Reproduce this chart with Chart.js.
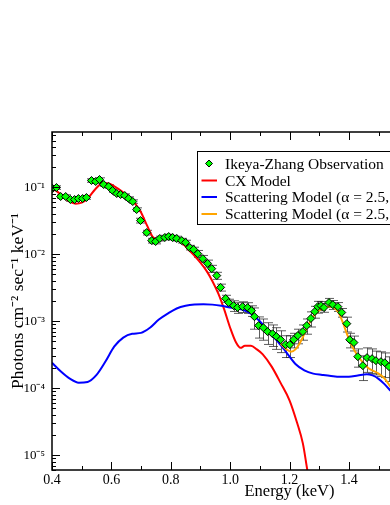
<!DOCTYPE html>
<html>
<head>
<meta charset="utf-8">
<script src="https://cdn.jsdelivr.net/npm/chart.js@4.4.0/dist/chart.umd.min.js"></script>
<style>
  html, body { margin: 0; padding: 0; background: #fff; overflow: hidden; }
  #wrap { width: 560px; height: 505px; }
</style>
</head>
<body>
<div id="wrap"><canvas id="spectrum"></canvas></div>
<script>
// Ikeya-Zhang observation (keV, photons cm^-2 s^-1 keV^-1)
const obsEnergy = [0.402, 0.415, 0.429, 0.446, 0.462, 0.476, 0.489, 0.503, 0.516, 0.533,
    0.547, 0.560, 0.574, 0.591, 0.604, 0.618, 0.631, 0.645, 0.658, 0.672,
    0.685, 0.698, 0.719, 0.736, 0.749, 0.763, 0.780, 0.793, 0.806, 0.820,
    0.837, 0.850, 0.864, 0.877, 0.891, 0.908, 0.924, 0.938, 0.955, 0.968,
    0.985, 0.995, 1.012, 1.025, 1.042, 1.059, 1.072, 1.082, 1.096, 1.112,
    1.126, 1.143, 1.156, 1.170, 1.187, 1.201, 1.214, 1.228, 1.245, 1.258,
    1.272, 1.285, 1.295, 1.306, 1.316, 1.333, 1.346, 1.363, 1.376, 1.393,
    1.403, 1.417, 1.430, 1.447, 1.461, 1.478, 1.491, 1.508, 1.521, 1.535];
const obsFlux = [0.0959, 0.0993, 0.0729, 0.0729, 0.0657, 0.0657, 0.0680, 0.0680, 0.0704, 0.1264,
    0.1221, 0.1308, 0.1101, 0.1028, 0.0896, 0.0808, 0.0781, 0.0754, 0.0680, 0.0613,
    0.0466, 0.0319, 0.0211, 0.0160, 0.0155, 0.0172, 0.0178, 0.0184, 0.0178, 0.0172,
    0.0160, 0.0150, 0.0126, 0.0118, 0.0102, 0.0086, 0.0073, 0.0061, 0.0048, 0.0032,
    0.00218, 0.0019, 0.00171, 0.0016, 0.00165, 0.0016, 0.00144, 0.00117, 0.00086, 0.0008,
    0.0007, 0.00065, 0.00059, 0.00053, 0.000447, 0.000447, 0.00053, 0.00061, 0.0007, 0.00086,
    0.0011, 0.00139, 0.00165, 0.00171, 0.0016, 0.0019, 0.00177, 0.00165, 0.00135, 0.00092,
    0.00053, 0.00048, 0.000296, 0.000217, 0.000286, 0.000276, 0.000258, 0.000249, 0.00024, 0.00021];
const obsErr = [0.0058, 0.006, 0.0044, 0.0044, 0.0039, 0.0039, 0.0041, 0.0041, 0.0042, 0.0076,
    0.0073, 0.0078, 0.0066, 0.0062, 0.0054, 0.0048, 0.0047, 0.0045, 0.0041, 0.0037,
    0.0028, 0.0026, 0.0017, 0.0013, 0.0012, 0.0014, 0.0014, 0.0015, 0.0014, 0.0014,
    0.0013, 0.0012, 0.0010, 0.00094, 0.0012, 0.0010, 0.00088, 0.00073, 0.00058, 0.00038,
    0.00026, 0.00023, 0.00031, 0.00029, 0.0003, 0.00029, 0.00026, 0.00041, 0.0003, 0.00028,
    0.00025, 0.00023, 0.00021, 0.00019, 0.00016, 0.00016, 0.00013, 0.00015, 0.00018, 0.00022,
    0.00028, 0.00028, 0.00033, 0.00026, 0.00024, 0.00029, 0.00027, 0.00025, 0.0002, 0.00023,
    0.00013, 0.00012, 0.00009, 0.000087, 0.000114, 0.00011, 0.0001, 0.0001, 0.000096, 0.000084];

// CX model
const cxEnergy = [0.40, 0.43, 0.46, 0.48, 0.50, 0.52, 0.545, 0.57, 0.59, 0.61,
    0.635, 0.66, 0.68, 0.70, 0.72, 0.74, 0.76, 0.78, 0.80, 0.82,
    0.84, 0.86, 0.88, 0.90, 0.92, 0.94, 0.96, 0.98, 1.00, 1.02,
    1.035, 1.05, 1.07, 1.09, 1.11, 1.14, 1.17, 1.20, 1.225, 1.245,
    1.26, 1.275];
const cxFlux = [0.099, 0.078, 0.061, 0.057, 0.059, 0.068, 0.093, 0.114, 0.114, 0.103,
    0.087, 0.070, 0.057, 0.042, 0.027, 0.018, 0.0166, 0.0172, 0.0178, 0.0166,
    0.0145, 0.0117, 0.0095, 0.0075, 0.0057, 0.0040, 0.0026, 0.0015, 0.00080, 0.00048,
    0.00040, 0.00043, 0.00043, 0.00038, 0.00032, 0.00021, 0.00012, 0.000066, 0.000031, 0.000015,
    0.000006, 0.0000025];

// Scattering model (blue)
const scatEnergy = [0.40, 0.43, 0.46, 0.49, 0.52, 0.55, 0.58, 0.61, 0.64, 0.67,
    0.70, 0.73, 0.76, 0.79, 0.82, 0.85, 0.88, 0.91, 0.94, 0.97,
    1.00, 1.04, 1.07, 1.10, 1.13, 1.16, 1.19, 1.22, 1.25, 1.28,
    1.31, 1.34, 1.37, 1.40, 1.43, 1.46, 1.48, 1.50, 1.52, 1.54,
    1.57, 1.60];
const scatFlux = [0.00024, 0.000177, 0.000139, 0.000121, 0.000124, 0.000158, 0.00025, 0.00042, 0.00057, 0.00065,
    0.00067, 0.0008, 0.00106, 0.0013, 0.00155, 0.0017, 0.00178, 0.0018, 0.00177, 0.0017,
    0.0016, 0.0015, 0.0013, 0.001, 0.0007, 0.0005, 0.00034, 0.00023, 0.000185, 0.000165,
    0.000158, 0.000152, 0.000148, 0.000148, 0.000155, 0.000162, 0.000155, 0.000138, 0.000115, 0.000092,
    0.000065, 0.000045];

// Scattering model (orange)
const scatLineEnergy = [1.17, 1.19, 1.205, 1.22, 1.24, 1.26, 1.28, 1.30, 1.32, 1.335,
    1.35, 1.365, 1.38, 1.395, 1.415, 1.44, 1.465, 1.495, 1.52, 1.54,
    1.57, 1.60];
const scatLineFlux = [0.00046, 0.00038, 0.00035, 0.00038, 0.00052, 0.00082, 0.00117, 0.00145, 0.00162, 0.00166,
    0.0016, 0.00135, 0.00095, 0.00062, 0.00039, 0.000265, 0.0002, 0.00017, 0.00014, 0.000105,
    0.00007, 0.00005];

const xTickValues = [0.4, 0.6, 0.8, 1.0, 1.2, 1.4, 1.6, 1.8, 2.0];
const seriesNames = ["Ikeya-Zhang Observation", "CX Model",
    "Scattering Model (\u03b1 = 2.5, no lines)", "Scattering Model (\u03b1 = 2.5, with lines)"];

const serif = '"Liberation Serif", "Times New Roman", serif';
Chart.defaults.font.family = serif;
Chart.defaults.color = "#000";

const supMap = { "-": "\u207b", "0": "\u2070", "1": "\u00b9", "2": "\u00b2", "3": "\u00b3",
    "4": "\u2074", "5": "\u2075", "6": "\u2076", "7": "\u2077", "8": "\u2078", "9": "\u2079" };
function sup(n) {
    return String(n).split("").map((c) => supMap[c]).join("");
}

function pairs(xs, ys) {
    return xs.map((x, i) => ({ x: x, y: ys[i] }));
}

// error bars under the diamonds
const errorBars = {
    id: "errorBars",
    beforeDatasetsDraw(chart) {
        const { ctx, chartArea, scales } = chart;
        ctx.save();
        ctx.beginPath();
        ctx.rect(chartArea.left, chartArea.top, chartArea.right - chartArea.left, chartArea.bottom - chartArea.top);
        ctx.clip();
        ctx.strokeStyle = "rgba(40,40,40,0.75)";
        ctx.lineWidth = 1;
        obsEnergy.forEach((e, i) => {
            const px = Math.round(scales.x.getPixelForValue(e)) + 0.5;
            const top = scales.y.getPixelForValue(obsFlux[i] + obsErr[i]);
            const bot = scales.y.getPixelForValue(obsFlux[i] - obsErr[i]);
            ctx.beginPath();
            ctx.moveTo(px, top);
            ctx.lineTo(px, bot);
            ctx.moveTo(px - 4.5, top);
            ctx.lineTo(px + 4.5, top);
            ctx.moveTo(px - 4.5, bot);
            ctx.lineTo(px + 4.5, bot);
            ctx.stroke();
        });
        ctx.restore();
    },
};

// frame, inward tick marks and the boxed legend
const frameAndLegend = {
    id: "frameAndLegend",
    afterDraw(chart) {
        const { ctx, chartArea, scales } = chart;
        const { left, right, top, bottom } = chartArea;
        ctx.save();
        ctx.strokeStyle = "#000";
        ctx.lineWidth = 1.5;
        ctx.strokeRect(left, top, right - left, bottom - top);

        ctx.lineWidth = 1;
        // x ticks, bottom and top
        for (let k = 4; k <= 20; k++) {
            const px = Math.round(scales.x.getPixelForValue(k / 10)) + 0.5;
            const len = k % 2 === 0 ? 8 : 4;
            ctx.beginPath();
            ctx.moveTo(px, bottom);
            ctx.lineTo(px, bottom - len);
            ctx.moveTo(px, top);
            ctx.lineTo(px, top + len);
            ctx.stroke();
        }
        // y ticks, log
        for (let ex = -6; ex <= 0; ex++) {
            for (let m = 1; m <= 9; m++) {
                const v = m * Math.pow(10, ex);
                if (v < scales.y.min || v > scales.y.max) continue;
                const py = Math.round(scales.y.getPixelForValue(v)) + 0.5;
                const len = m === 1 ? 8 : 4;
                ctx.beginPath();
                ctx.moveTo(left, py);
                ctx.lineTo(left + len, py);
                ctx.moveTo(right, py);
                ctx.lineTo(right - len, py);
                ctx.stroke();
            }
        }

        // legend
        const bx = 197.5, by = 151.5, bw = 300, bh = 73;
        ctx.fillStyle = "#fff";
        ctx.fillRect(bx, by, bw, bh);
        ctx.strokeRect(bx, by, bw, bh);
        ctx.font = "15.5px " + serif;
        ctx.textBaseline = "middle";
        const rows = [163.5, 180.5, 197, 214];
        chart.data.datasets.forEach((ds, i) => {
            const ry = rows[i];
            if (i === 0) {
                ctx.beginPath();
                ctx.moveTo(209, ry - 3.5);
                ctx.lineTo(212.5, ry);
                ctx.lineTo(209, ry + 3.5);
                ctx.lineTo(205.5, ry);
                ctx.closePath();
                ctx.fillStyle = ds.backgroundColor;
                ctx.fill();
                ctx.strokeStyle = "#000";
                ctx.stroke();
            } else {
                ctx.strokeStyle = ds.borderColor;
                ctx.lineWidth = 2;
                ctx.beginPath();
                ctx.moveTo(201.5, ry);
                ctx.lineTo(217, ry);
                ctx.stroke();
                ctx.lineWidth = 1;
            }
            ctx.fillStyle = "#000";
            ctx.fillText(ds.label, 225, ry + 1);
        });
        ctx.restore();
    },
};

new Chart(document.getElementById("spectrum"), {
    type: "line",
    data: {
        datasets: [
            {
                label: seriesNames[0],
                data: pairs(obsEnergy, obsFlux),
                showLine: false,
                pointStyle: "rectRot",
                pointRadius: 4,
                pointBorderWidth: 1,
                backgroundColor: "#00ff00",
                borderColor: "#000",
                order: 0,
            },
            {
                label: seriesNames[1],
                data: pairs(cxEnergy, cxFlux),
                borderColor: "#ff0000",
                borderWidth: 2,
                pointRadius: 0,
                cubicInterpolationMode: "monotone",
                order: 3,
            },
            {
                label: seriesNames[2],
                data: pairs(scatEnergy, scatFlux),
                borderColor: "#0000ff",
                borderWidth: 2,
                pointRadius: 0,
                cubicInterpolationMode: "monotone",
                order: 2,
            },
            {
                label: seriesNames[3],
                data: pairs(scatLineEnergy, scatLineFlux),
                borderColor: "#ffa500",
                borderWidth: 2,
                pointRadius: 0,
                cubicInterpolationMode: "monotone",
                order: 1,
            },
        ],
    },
    options: {
        responsive: true,
        maintainAspectRatio: false,
        animation: false,
        clip: true,
        layout: { padding: { top: 132, right: 33, left: 0, bottom: 0 } },
        plugins: { legend: { display: false }, tooltip: { enabled: false } },
        scales: {
            x: {
                type: "linear",
                min: 0.4,
                max: 2.0,
                afterBuildTicks: (s) => { s.ticks = xTickValues.map((v) => ({ value: v })); },
                afterFit: (s) => { s.height = 35; },
                grid: { display: false, drawTicks: false },
                border: { display: false },
                ticks: {
                    autoSkip: false,
                    maxRotation: 0,
                    padding: 2,
                    font: { size: 14 },
                    callback: (v) => Number(v).toFixed(1),
                },
                title: {
                    display: true,
                    text: "Energy (keV)",
                    font: { size: 16.5 },
                    padding: { top: 0, bottom: 3 },
                },
            },
            y: {
                type: "logarithmic",
                min: 6e-6,
                max: 0.67,
                afterFit: (s) => { s.width = 52; },
                grid: { display: false, drawTicks: false },
                border: { display: false },
                ticks: {
                    autoSkip: false,
                    padding: 7,
                    font: { size: 13 },
                    callback: (v) => {
                        const e = Math.log10(v);
                        return Math.abs(e - Math.round(e)) < 1e-6 ? "10" + sup(Math.round(e)) : "";
                    },
                },
                title: {
                    display: true,
                    text: "Photons cm\u207b\u00b2 sec\u207b\u00b9 keV\u207b\u00b9",
                    font: { size: 17.5 },
                    padding: { top: 8, bottom: 0 },
                },
            },
        },
    },
    plugins: [errorBars, frameAndLegend],
});
</script>
</body>
</html>
